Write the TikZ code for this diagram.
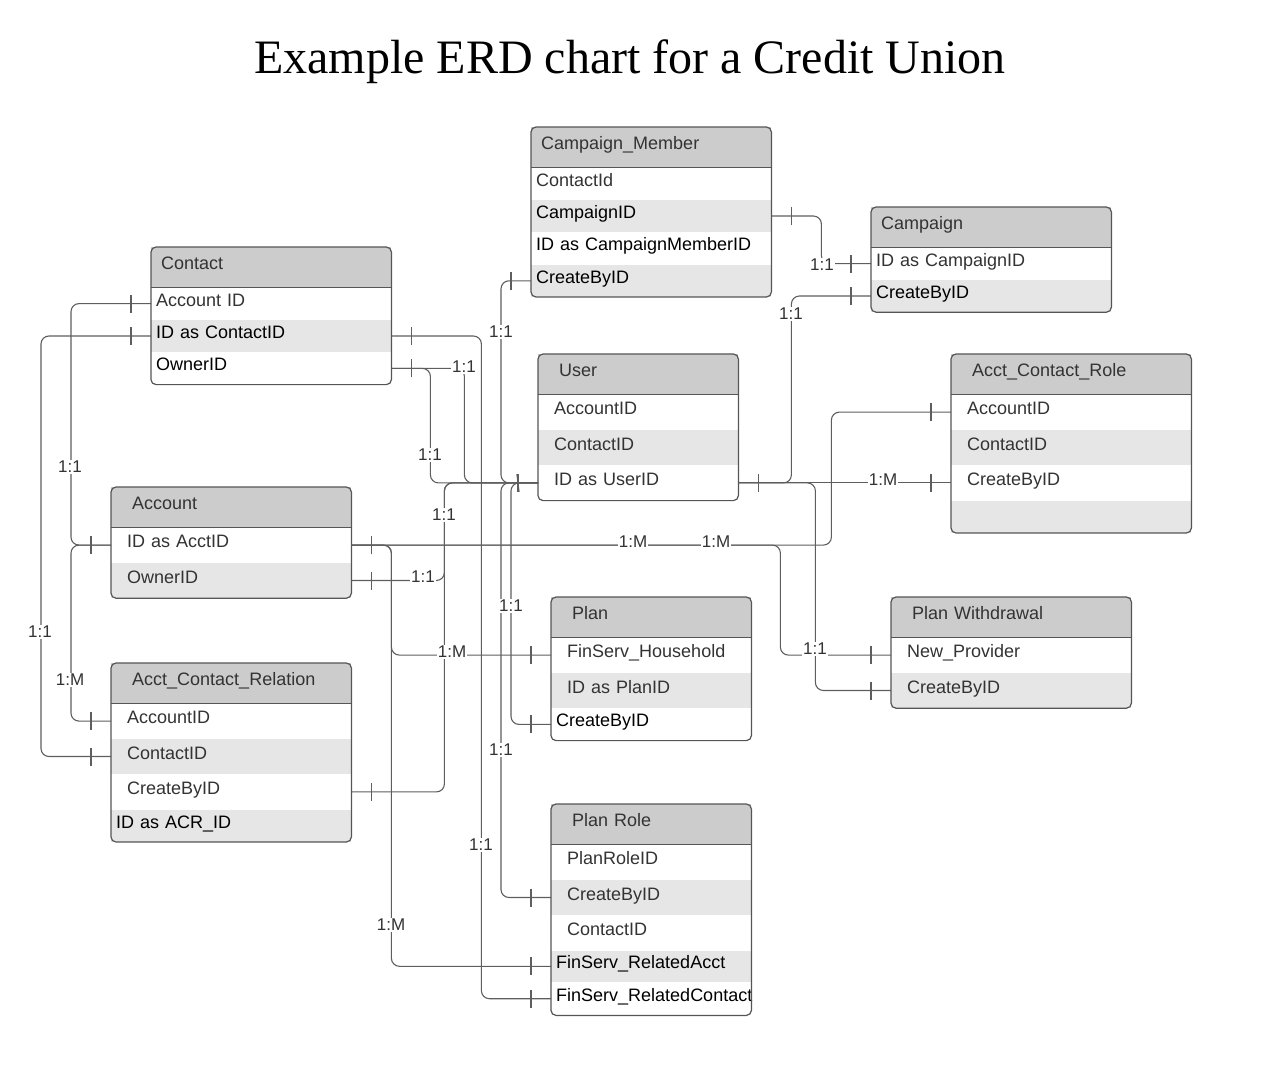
\documentclass[tikz,border=0pt]{standalone}
\usepackage{fontspec}
\setmainfont{Liberation Sans}
\newfontfamily\titlefont{Liberation Serif}
\usetikzlibrary{positioning,decorations.markings}

\definecolor{hdrgray}{HTML}{CCCCCC}
\definecolor{rowgray}{HTML}{E6E6E6}
\definecolor{bordc}{HTML}{555555}
\definecolor{linec}{HTML}{5E5E5E}
\definecolor{txtc}{HTML}{333333}

\newcommand\erdtick{\draw[linec, line width=1.1pt] (0pt,-9pt) -- (0pt,9pt);}

\tikzset{
  cell/.style={anchor=north west, minimum height=35pt, inner ysep=0pt, text height=11pt, text depth=6pt,
    align=left, font=\fontsize{18}{21}\selectfont, text=txtc},
  hd/.style={cell, fill=hdrgray, minimum height=40pt},
  wh/.style={cell, fill=white},
  gr/.style={cell, fill=rowgray},
  blk/.style={text=black},
  w5/.style={inner xsep=5pt, text width=230pt},
  w16/.style={inner xsep=16pt, text width=208pt},
  n5/.style={inner xsep=5pt, text width=190pt},
  n16/.style={inner xsep=16pt, text width=168pt},
  hw10/.style={inner xsep=10pt, text width=220pt},
  hw21/.style={inner xsep=21pt, text width=198pt},
  hn21/.style={inner xsep=21pt, text width=158pt},
  tbl/.style={draw=bordc, line width=1.2pt, rounded corners=5pt},
  sep/.style={draw=bordc, line width=1.2pt},
  rel/.style={draw=linec, line width=1.1pt, rounded corners=8pt, postaction={decorate},
    decoration={markings, mark=at position 20pt with {\erdtick}, mark=at position -20pt with {\erdtick}}},
  lbl/.style={fill=white, inner sep=1pt, font=\fontsize{17}{20}\selectfont, text=txtc},
}

\begin{document}
\begin{tikzpicture}[x=1pt,y=-1pt]
\useasboundingbox (0,0) rectangle (1275,1082);

\node[font=\titlefont\fontsize{48}{58}\selectfont] (title) at (630,62) {Example ERD chart for a Credit Union};

% Campaign_Member
\node[hd, hw10] (cmH) at (531,127) {Campaign\_Member};
\node[wh, w5, minimum height=32pt, below=0pt of cmH] (cmCont) {ContactId};
\node[gr, w5, blk, minimum height=32pt, below=0pt of cmCont] (cmCamp) {CampaignID};
\node[wh, w5, blk, minimum height=32pt, below=0pt of cmCamp] (cmId) {ID as CampaignMemberID};
\node[gr, w5, blk, minimum height=32pt, below=0pt of cmId] (cmCreate) {CreateByID};
\draw[tbl] (cmH.north west) rectangle (cmCreate.south east);
\draw[sep] (cmH.south west) -- (cmH.south east);

% Campaign
\node[hd, hw10] (caH) at (871,207) {Campaign};
\node[wh, w5, minimum height=32pt, below=0pt of caH] (caId) {ID as CampaignID};
\node[gr, w5, blk, minimum height=32pt, below=0pt of caId] (caCreate) {CreateByID};
\draw[tbl] (caH.north west) rectangle (caCreate.south east);
\draw[sep] (caH.south west) -- (caH.south east);

% Contact
\node[hd, hw10] (coH) at (151,247) {Contact};
\node[wh, w5, minimum height=32pt, below=0pt of coH] (coAcct) {Account ID};
\node[gr, w5, blk, minimum height=32pt, below=0pt of coAcct] (coId) {ID as ContactID};
\node[wh, w5, blk, minimum height=32pt, below=0pt of coId] (coOwner) {OwnerID};
\draw[tbl] (coH.north west) rectangle (coOwner.south east);
\draw[sep] (coH.south west) -- (coH.south east);

% User
\node[hd, hn21] (usH) at (538,354) {User};
\node[wh, n16, below=0pt of usH] (usAcct) {AccountID};
\node[gr, n16, below=0pt of usAcct] (usCont) {ContactID};
\node[wh, n16, below=0pt of usCont] (usId) {ID as UserID};
\draw[tbl] (usH.north west) rectangle (usId.south east);
\draw[sep] (usH.south west) -- (usH.south east);

% Acct_Contact_Role
\node[hd, hw21] (arH) at (951,354) {Acct\_Contact\_Role};
\node[wh, w16, below=0pt of arH] (arAcct) {AccountID};
\node[gr, w16, below=0pt of arAcct] (arCont) {ContactID};
\node[wh, w16, below=0pt of arCont] (arCreate) {CreateByID};
\node[gr, w16, minimum height=32pt, below=0pt of arCreate] (arBlank) {};
\draw[tbl] (arH.north west) rectangle (arBlank.south east);
\draw[sep] (arH.south west) -- (arH.south east);

% Account
\node[hd, hw21] (acH) at (111,487) {Account};
\node[wh, w16, below=0pt of acH] (acId) {ID as AcctID};
\node[gr, w16, below=0pt of acId] (acOwner) {OwnerID};
\draw[tbl] (acH.north west) rectangle (acOwner.south east);
\draw[sep] (acH.south west) -- (acH.south east);

% Acct_Contact_Relation
\node[hd, hw21] (rlH) at (111,663) {Acct\_Contact\_Relation};
\node[wh, w16, below=0pt of rlH] (rlAcct) {AccountID};
\node[gr, w16, below=0pt of rlAcct] (rlCont) {ContactID};
\node[wh, w16, below=0pt of rlCont] (rlCreate) {CreateByID};
\node[gr, w5, blk, minimum height=32pt, below=0pt of rlCreate] (rlId) {ID as ACR\_ID};
\draw[tbl] (rlH.north west) rectangle (rlId.south east);
\draw[sep] (rlH.south west) -- (rlH.south east);

% Plan
\node[hd, hn21] (plH) at (551,597) {Plan};
\node[wh, n16, below=0pt of plH] (plHouse) {FinServ\_Household};
\node[gr, n16, below=0pt of plHouse] (plId) {ID as PlanID};
\node[wh, n5, blk, minimum height=32pt, below=0pt of plId] (plCreate) {CreateByID};
\draw[tbl] (plH.north west) rectangle (plCreate.south east);
\draw[sep] (plH.south west) -- (plH.south east);

% Plan Withdrawal
\node[hd, hw21] (pwH) at (891,597) {Plan Withdrawal};
\node[wh, w16, below=0pt of pwH] (pwProv) {New\_Provider};
\node[gr, w16, below=0pt of pwProv] (pwCreate) {CreateByID};
\draw[tbl] (pwH.north west) rectangle (pwCreate.south east);
\draw[sep] (pwH.south west) -- (pwH.south east);

% Plan Role
\node[hd, hn21] (prH) at (551,804) {Plan Role};
\node[wh, n16, below=0pt of prH] (prId) {PlanRoleID};
\node[gr, n16, below=0pt of prId] (prCreate) {CreateByID};
\node[wh, n16, below=0pt of prCreate] (prCont) {ContactID};
\node[gr, n5, blk, minimum height=31pt, below=0pt of prCont] (prAcct) {FinServ\_RelatedAcct};
\node[wh, n5, blk, minimum height=33pt, below=0pt of prAcct] (prRCont) {FinServ\_RelatedContact};
\draw[tbl] (prH.north west) rectangle (prRCont.south east);
\draw[sep] (prH.south west) -- (prH.south east);

% relations
\draw[rel] (coAcct.west) -- ++(-80,0) |- (acId.west);
\draw[rel] (coId.west) -- ++(-110,0) |- (rlCont.west);
\draw[rel] (acId.west) -- ++(-40,0) |- (rlAcct.west);
\draw[rel] (coId.east) -- ++(90,0) |- (prRCont.west);
\draw[rel] (coOwner.east) -- ++(39,0) |- (usId.west);
\draw[rel] (coOwner.east) -- ++(73,0) |- (usId.west);
\draw[rel] (cmCreate.west) -- ++(-30,0) |- (usId.west);
\draw[rel] (acOwner.east) -- ++(93,0) |- (usId.west);
\draw[rel] (rlCreate.east) -- ++(93,0) |- (usId.west);
\draw[rel] (plCreate.west) -- ++(-40,0) |- (usId.west);
\draw[rel] (prCreate.west) -- ++(-50,0) |- (usId.west);
\draw[rel] (usId.east) -- ++(53,0) |- (caCreate.west);
\draw[rel] (usId.east) -- (arCreate.west);
\draw[rel] (usId.east) -- ++(77,0) |- (pwCreate.west);
\draw[rel] (cmCamp.east) -- ++(50,0) |- (caId.west);
\draw[rel] (acId.east) -- ++(40,0) |- (plHouse.west);
\draw[rel] (acId.east) -- ++(40,0) |- (prAcct.west);
\draw[rel] (acId.east) -- ++(429,0) |- (pwProv.west);
\draw[rel] (acId.east) -- ++(480,0) |- (arAcct.west);

% cardinality labels
\node[lbl] (l1) at (70,467) {1:1};
\node[lbl] (l2) at (40,632) {1:1};
\node[lbl] (l3) at (70,680) {1:M};
\node[lbl] (l4) at (481,845) {1:1};
\node[lbl] (l5) at (430,455) {1:1};
\node[lbl] (l6) at (464,367) {1:1};
\node[lbl] (l7) at (501,332) {1:1};
\node[lbl] (l8) at (423,577) {1:1};
\node[lbl] (l9) at (444,515) {1:1};
\node[lbl] (l10) at (511,606) {1:1};
\node[lbl] (l11) at (501,750) {1:1};
\node[lbl] (l12) at (791,314) {1:1};
\node[lbl] (l13) at (883,480) {1:M};
\node[lbl] (l14) at (815,649) {1:1};
\node[lbl] (l15) at (822,265) {1:1};
\node[lbl] (l16) at (452,652) {1:M};
\node[lbl] (l17) at (391,925) {1:M};
\node[lbl] (l18) at (633,542) {1:M};
\node[lbl] (l19) at (716,542) {1:M};
\end{tikzpicture}
\end{document}
